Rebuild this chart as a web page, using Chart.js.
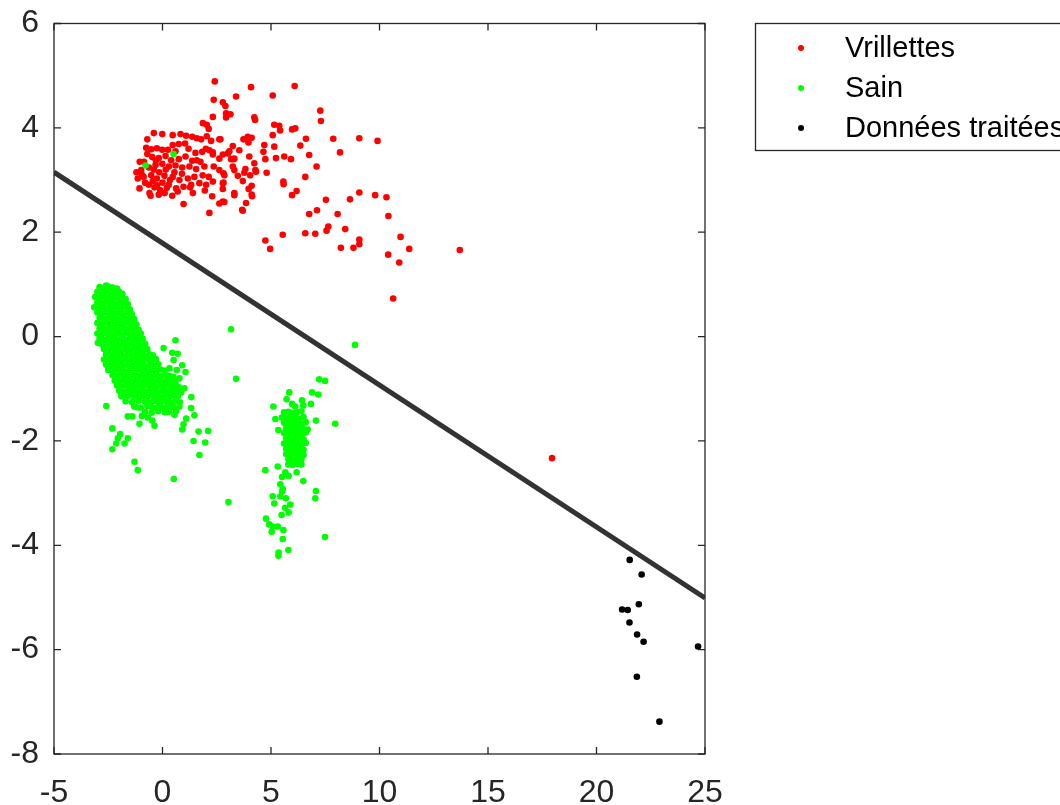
<!DOCTYPE html>
<html>
<head>
<meta charset="utf-8">
<script src="https://cdn.jsdelivr.net/npm/chart.js@4.4.1/dist/chart.umd.min.js"></script>
<style>
  body { margin: 0; background: #fff; }
  #wrap { width: 1060px; height: 805px; }
</style>
</head>
<body>
<div id="wrap"><canvas id="myChart" width="1060" height="805"></canvas></div>
<script>
// tick values
var xTicks = [-5, 0, 5, 10, 15, 20, 25];
var yTicks = [-8, -6, -4, -2, 0, 2, 4, 6];

var labels = ['Vrillettes', 'Sain', 'Données traitées'];

// red points
var vrillettes = [
  [4.08,4.78],[6.09,4.80],[3.39,4.60],[5.08,4.62],[2.78,4.49],[2.90,4.42],[2.93,4.28],[3.13,4.26],[2.93,4.20],[7.27,4.33],
  [7.30,4.13],[4.23,4.20],[4.27,4.15],[5.15,4.06],[5.38,4.04],[5.42,3.95],[5.97,3.97],[6.12,3.99],[5.08,3.86],[3.73,3.78],
  [3.93,3.83],[4.11,3.81],[3.96,3.72],[2.67,3.78],[4.69,3.67],[5.15,3.64],[6.35,3.66],[6.61,3.79],[7.87,3.79],[9.07,3.80],
  [9.91,3.75],[3.24,3.65],[2.78,3.49],[3.01,3.51],[3.16,3.40],[3.27,3.40],[4.00,3.45],[4.65,3.54],[4.74,3.40],[5.23,3.42],
  [5.61,3.45],[5.92,3.40],[6.76,3.48],[8.18,3.53],[4.23,3.32],[4.28,3.19],[4.31,3.16],[3.24,3.26],[3.31,3.19],[7.10,3.26],
  [2.81,3.13],[3.82,3.21],[3.77,3.14],[3.47,3.08],[3.70,2.98],[4.04,3.09],[4.80,3.14],[6.58,3.06],[2.81,2.95],[4.11,2.89],
  [5.57,2.97],[5.58,2.92],[2.78,2.83],[3.31,2.75],[3.97,2.83],[4.11,2.72],[4.13,2.69],[5.97,2.71],[6.18,2.79],[2.78,2.59],
  [3.85,2.56],[3.67,2.43],[7.53,2.62],[8.64,2.63],[9.07,2.76],[9.80,2.71],[10.32,2.67],[6.76,2.35],[7.12,2.42],[8.07,2.35],
  [10.41,2.31],[7.56,2.03],[7.64,2.11],[8.42,2.06],[6.58,1.98],[7.04,1.97],[5.54,1.95],[4.74,1.84],[4.96,1.68],[9.07,1.86],
  [9.07,1.77],[8.22,1.70],[8.80,1.70],[10.97,1.91],[11.37,1.68],[10.40,1.57],[10.91,1.42],[13.70,1.66],[10.63,0.73],[17.95,-2.33],
  [2.41,4.89],[2.36,4.54],[2.32,4.21],[1.86,4.09],[2.04,4.06],[2.13,3.98],
  [-0.40,3.90],[-0.01,3.88],[0.47,3.86],[0.83,3.88],[1.09,3.85],[1.37,3.83],[1.58,3.80],[1.78,3.78],[2.04,3.84],[2.24,3.75],
  [2.62,3.78],[-0.70,3.78],[-0.52,3.59],[-0.26,3.61],[-0.01,3.58],[0.47,3.67],[0.75,3.69],[1.04,3.70],[1.52,3.52],[1.83,3.54],
  [2.16,3.57],[2.32,3.53],[-0.47,3.44],[-0.17,3.42],[0.14,3.46],[1.06,3.45],[1.37,3.37],[1.58,3.38],[-0.98,3.19],[-0.63,3.24],
  [-0.32,3.29],[-0.01,3.31],[0.29,3.26],[0.60,3.28],[0.91,3.24],[1.24,3.26],[1.55,3.21],[1.93,3.26],[2.36,3.26],[2.62,3.19],
  [-1.14,3.03],[-0.87,3.06],[-0.52,3.09],[-0.26,3.03],[0.09,3.08],[0.47,3.06],[0.78,3.00],[1.17,3.03],[1.47,3.06],[1.85,3.09],
  [2.13,3.06],[-1.06,2.84],[-0.63,2.91],[-0.37,2.86],[-0.11,2.81],[0.29,2.91],[0.63,2.84],[0.97,2.87],[1.32,2.91],[1.70,2.94],
  [2.01,2.91],[-0.60,2.75],[-0.17,2.72],[0.70,2.78],[1.27,2.86],[2.29,2.69],[2.62,2.55],[2.85,2.58],[0.97,2.54],[2.16,2.37],
  [3.31,2.71],[2.32,2.97],[2.78,2.94],[2.85,3.09],[3.54,3.57],[3.31,3.41],[3.08,3.55],[2.62,3.41],[2.32,3.49],[3.70,2.41],
  [-0.85,3.35],[-0.70,3.50],[-0.40,3.20],[-0.15,3.15],[0.15,3.20],[-0.80,2.95],[-0.45,2.98],[0.00,2.95],[0.35,3.00],[-0.95,3.10],
  [-0.30,3.38],[0.40,3.38],[0.75,3.40],[0.60,3.55],[0.25,3.58],[-0.55,2.70],[0.10,2.75],[0.45,2.70],[-0.25,2.90],[0.90,3.12],
  [1.20,3.60],[1.75,3.35],[2.00,3.60],[1.40,2.75],[-0.75,3.62],[-1.20,3.15],[-1.05,3.35],[0.20,2.85],[1.95,2.80],[0.55,3.15]
];

// green points
var sain = [
  [-2.9,0.95],[-2.7,0.93],[-2.5,0.96],[-2.3,0.94],[-2.1,0.92],[-2.6,0.98],
  [-3.0,0.86],[-2.8,0.84],[-2.6,0.87],[-2.4,0.85],[-2.2,0.83],[-2.0,0.86],[-1.85,0.82],
  [-3.1,0.76],[-2.9,0.74],[-2.7,0.77],[-2.5,0.75],[-2.3,0.73],[-2.1,0.76],[-1.9,0.74],[-1.7,0.72],
  [-3.0,0.66],[-2.8,0.64],[-2.6,0.67],[-2.4,0.65],[-2.2,0.63],[-2.0,0.66],[-1.8,0.64],[-1.6,0.62],
  [-3.15,0.56],[-2.9,0.54],[-2.7,0.57],[-2.5,0.55],[-2.3,0.53],[-2.1,0.56],[-1.9,0.54],[-1.7,0.57],[-1.5,0.52],
  [-3.0,0.46],[-2.8,0.44],[-2.6,0.47],[-2.4,0.45],[-2.2,0.43],[-2.0,0.46],[-1.8,0.44],[-1.6,0.47],[-1.42,0.43],
  [-2.9,0.36],[-2.7,0.34],[-2.5,0.37],[-2.3,0.35],[-2.1,0.33],[-1.9,0.36],[-1.7,0.34],[-1.5,0.37],[-1.3,0.33],
  [-3.0,0.26],[-2.8,0.24],[-2.6,0.27],[-2.4,0.25],[-2.2,0.23],[-2.0,0.26],[-1.8,0.24],[-1.6,0.27],[-1.4,0.25],[-1.2,0.23],
  [-2.9,0.16],[-2.7,0.14],[-2.5,0.17],[-2.3,0.15],[-2.1,0.13],[-1.9,0.16],[-1.7,0.14],[-1.5,0.17],[-1.3,0.15],[-1.1,0.13],
  [-3.0,0.06],[-2.8,0.04],[-2.6,0.07],[-2.4,0.05],[-2.2,0.03],[-2.0,0.06],[-1.8,0.04],[-1.6,0.07],[-1.4,0.05],[-1.2,0.03],[-1.0,0.06],
  [-2.9,-0.04],[-2.7,-0.06],[-2.5,-0.03],[-2.3,-0.05],[-2.1,-0.07],[-1.9,-0.04],[-1.7,-0.06],[-1.5,-0.03],[-1.3,-0.05],[-1.1,-0.07],[-0.92,-0.04],
  [-2.8,-0.14],[-2.6,-0.16],[-2.4,-0.13],[-2.2,-0.15],[-2.0,-0.17],[-1.8,-0.14],[-1.6,-0.16],[-1.4,-0.13],[-1.2,-0.15],[-1.0,-0.17],[-0.8,-0.14],
  [-2.7,-0.24],[-2.5,-0.26],[-2.3,-0.23],[-2.1,-0.25],[-1.9,-0.27],[-1.7,-0.24],[-1.5,-0.26],[-1.3,-0.23],[-1.1,-0.25],[-0.9,-0.27],[-0.7,-0.24],
  [-2.6,-0.34],[-2.4,-0.36],[-2.2,-0.33],[-2.0,-0.35],[-1.8,-0.37],[-1.6,-0.34],[-1.4,-0.36],[-1.2,-0.33],[-1.0,-0.35],[-0.8,-0.37],[-0.6,-0.34],[-0.45,-0.36],
  [-2.7,-0.44],[-2.5,-0.46],[-2.3,-0.43],[-2.1,-0.45],[-1.9,-0.47],[-1.7,-0.44],[-1.5,-0.46],[-1.3,-0.43],[-1.1,-0.45],[-0.9,-0.47],[-0.7,-0.44],[-0.5,-0.46],[-0.3,-0.43],
  [-2.6,-0.54],[-2.4,-0.56],[-2.2,-0.53],[-2.0,-0.55],[-1.8,-0.57],[-1.6,-0.54],[-1.4,-0.56],[-1.2,-0.53],[-1.0,-0.55],[-0.8,-0.57],[-0.6,-0.54],[-0.4,-0.56],[-0.2,-0.53],
  [-2.5,-0.64],[-2.3,-0.66],[-2.1,-0.63],[-1.9,-0.65],[-1.7,-0.67],[-1.5,-0.64],[-1.3,-0.66],[-1.1,-0.63],[-0.9,-0.65],[-0.7,-0.67],[-0.5,-0.64],[-0.3,-0.66],[-0.1,-0.63],[0.1,-0.65],
  [-2.3,-0.74],[-2.1,-0.76],[-1.9,-0.73],[-1.7,-0.75],[-1.5,-0.77],[-1.3,-0.74],[-1.1,-0.76],[-0.9,-0.73],[-0.7,-0.75],[-0.5,-0.77],[-0.3,-0.74],[-0.1,-0.76],[0.1,-0.73],[0.3,-0.75],[0.5,-0.77],
  [-2.2,-0.84],[-2.0,-0.86],[-1.8,-0.83],[-1.6,-0.85],[-1.4,-0.87],[-1.2,-0.84],[-1.0,-0.86],[-0.8,-0.83],[-0.6,-0.85],[-0.4,-0.87],[-0.2,-0.84],[0.0,-0.86],[0.2,-0.83],[0.4,-0.85],[0.6,-0.87],
  [-2.1,-0.94],[-1.9,-0.96],[-1.7,-0.93],[-1.5,-0.95],[-1.3,-0.97],[-1.1,-0.94],[-0.9,-0.96],[-0.7,-0.93],[-0.5,-0.95],[-0.3,-0.97],[-0.1,-0.94],[0.1,-0.96],[0.3,-0.93],[0.5,-0.95],[0.75,-0.97],
  [-2.0,-1.04],[-1.8,-1.06],[-1.6,-1.03],[-1.4,-1.05],[-1.2,-1.07],[-1.0,-1.04],[-0.8,-1.06],[-0.6,-1.03],[-0.4,-1.05],[-0.2,-1.07],[0.0,-1.04],[0.2,-1.06],[0.4,-1.03],[0.6,-1.05],[0.85,-1.07],
  [-1.9,-1.14],[-1.7,-1.16],[-1.5,-1.13],[-1.3,-1.15],[-1.1,-1.17],[-0.9,-1.14],[-0.7,-1.16],[-0.5,-1.13],[-0.3,-1.15],[-0.1,-1.17],[0.1,-1.14],[0.3,-1.16],[0.5,-1.13],[0.7,-1.15],
  [-1.7,-1.24],[-1.4,-1.26],[-1.1,-1.23],[-0.8,-1.25],[-0.6,-1.27],[-0.4,-1.24],[-0.2,-1.26],[0.0,-1.23],[0.2,-1.25],[0.4,-1.27],[0.6,-1.24],[0.8,-1.26],
  [-1.3,-1.34],[-1.0,-1.36],[-0.7,-1.33],[-0.5,-1.35],[-0.3,-1.37],[-0.1,-1.34],[0.1,-1.36],[0.3,-1.33],[0.5,-1.35],
  [-0.8,-1.44],[-0.5,-1.46],[-0.2,-1.43],[0.1,-1.45],[0.3,-1.44],
  [-0.78,3.28],[0.51,3.50],
  [0.05,-0.22],[0.45,-0.31],[0.70,-0.33],[0.51,-0.45],[0.32,-0.61],[0.66,-0.64],[0.91,-0.55],[1.06,-0.68],[0.78,-0.80],[1.01,-0.99],
  [0.63,-0.96],[0.60,-0.07],[3.16,0.14],[3.39,-0.81],[-2.98,-0.12],
  [-2.59,-1.33],[-1.60,-1.53],[-1.39,-1.53],[-1.14,-1.36],[-0.95,-1.52],[-0.68,-1.55],[-1.06,-1.67],[-0.47,-1.61],[-0.37,-1.71],[-2.31,-1.76],
  [-1.95,-1.87],[-2.06,-1.95],[-2.13,-2.05],[-1.60,-1.95],[-1.75,-2.05],[-2.31,-2.16],[-1.29,-2.40],[-1.14,-2.56],[0.52,-2.73],[0.55,-1.50],
  [0.63,-1.42],[0.78,-1.34],[1.09,-1.57],[0.97,-1.68],[0.91,-1.78],[1.32,-1.37],[1.47,-1.51],[1.33,-1.16],[1.66,-1.82],[2.10,-1.81],
  [1.43,-2.00],[1.97,-2.03],[1.70,-2.27],
  [8.87,-0.16],[7.22,-0.82],[7.49,-0.85],[5.84,-1.07],[6.89,-1.07],[7.18,-1.11],[5.72,-1.20],[6.43,-1.22],[5.97,-1.29],[6.12,-1.34],
  [6.49,-1.32],[6.84,-1.29],[5.11,-1.34],[5.20,-1.58],[7.07,-1.61],[7.96,-1.67],[5.34,-1.79],[6.69,-1.78],
  [5.6,-1.45],[5.8,-1.44],[6.0,-1.46],[6.2,-1.45],[6.4,-1.43],
  [5.5,-1.55],[5.7,-1.56],[5.9,-1.54],[6.1,-1.55],[6.3,-1.57],[6.5,-1.54],
  [5.6,-1.65],[5.8,-1.66],[6.0,-1.64],[6.2,-1.65],[6.4,-1.67],[6.6,-1.64],
  [5.7,-1.75],[5.9,-1.76],[6.1,-1.74],[6.3,-1.75],[6.5,-1.77],
  [5.6,-1.85],[5.8,-1.86],[6.0,-1.84],[6.2,-1.85],[6.4,-1.87],[6.6,-1.84],
  [5.7,-1.95],[5.9,-1.96],[6.1,-1.94],[6.3,-1.95],[6.5,-1.97],
  [5.6,-2.05],[5.8,-2.06],[6.0,-2.04],[6.2,-2.05],[6.4,-2.07],[6.6,-2.04],
  [5.7,-2.15],[5.9,-2.16],[6.1,-2.14],[6.3,-2.15],[6.5,-2.17],
  [5.7,-2.25],[5.9,-2.26],[6.1,-2.24],[6.3,-2.25],[6.5,-2.27],
  [5.8,-2.35],[6.0,-2.36],[6.2,-2.34],[6.4,-2.35],
  [5.8,-2.45],[6.0,-2.46],[6.2,-2.44],[6.4,-2.45],
  [4.74,-2.56],[5.31,-2.49],[5.66,-2.60],[5.81,-2.67],[5.51,-2.69],[6.18,-2.60],[6.49,-2.77],[5.43,-2.83],[5.54,-2.92],[5.51,-2.97],
  [5.08,-3.06],[5.43,-3.06],[5.69,-3.10],[5.15,-3.20],[5.89,-3.22],[5.65,-3.28],[5.81,-3.37],[5.49,-3.42],[7.07,-2.96],[7.04,-3.10],
  [3.04,-3.17],[4.77,-3.49],[4.92,-3.60],[5.08,-3.64],[5.03,-3.74],[5.31,-3.64],[5.57,-3.71],[5.54,-3.88],[5.35,-4.14],[5.34,-4.20],
  [5.80,-4.09],[7.49,-3.84]
];

// black points
var traitees = [
  [21.53,-4.28],[22.08,-4.56],[21.95,-5.13],[21.18,-5.23],[21.44,-5.24],[21.52,-5.48],
  [21.87,-5.71],[22.17,-5.85],[24.68,-5.94],[21.86,-6.52],[22.90,-7.38]
];

// separating line
var frontiere = [[-5, 3.15], [25, -5.01]];

var colors = ['#ff0000', '#00ff00', '#000000'];

function toXY(arr) {
  return arr.map(function (p) { return { x: p[0], y: p[1] }; });
}

var fontFam = '"Liberation Sans", Arial, Helvetica, sans-serif';

var framePlugin = {
  id: 'frame',
  afterDraw: function (chart) {
    var ctx = chart.ctx;
    var a = chart.chartArea;
    var xs = chart.scales.x, ys = chart.scales.y;
    ctx.save();
    ctx.strokeStyle = '#262626';
    ctx.lineWidth = 1.3;
    ctx.strokeRect(a.left, a.top, a.right - a.left, a.bottom - a.top);
    ctx.beginPath();
    for (var i = 0; i < xTicks.length; i++) {
      var px = xs.getPixelForValue(xTicks[i]);
      ctx.moveTo(px, a.bottom); ctx.lineTo(px, a.bottom - 7);
      ctx.moveTo(px, a.top); ctx.lineTo(px, a.top + 7);
    }
    for (var j = 0; j < yTicks.length; j++) {
      var py = ys.getPixelForValue(yTicks[j]);
      ctx.moveTo(a.left, py); ctx.lineTo(a.left + 7, py);
      ctx.moveTo(a.right, py); ctx.lineTo(a.right - 7, py);
    }
    ctx.stroke();

    // legend box
    ctx.fillStyle = '#ffffff';
    ctx.fillRect(755, 23, 320, 127);
    ctx.strokeRect(755.5, 23.5, 320, 127);
    ctx.font = '29px ' + fontFam;
    ctx.textBaseline = 'middle';
    ctx.textAlign = 'left';
    for (var k = 0; k < labels.length; k++) {
      var ly = 48 + k * 40;
      ctx.fillStyle = colors[k];
      ctx.beginPath();
      ctx.arc(801, ly, 3, 0, Math.PI * 2);
      ctx.fill();
      ctx.fillStyle = '#000000';
      ctx.fillText(labels[k], 845, ly + 1);
    }
    ctx.restore();
  }
};

var ctx = document.getElementById('myChart').getContext('2d');
var myChart = new Chart(ctx, {
  type: 'scatter',
  data: {
    datasets: [
      { label: labels[0], data: toXY(vrillettes), backgroundColor: colors[0], borderWidth: 0, pointRadius: 3.3, order: 4 },
      { label: labels[1], data: toXY(sain), backgroundColor: colors[1], borderWidth: 0, pointRadius: 3.3, order: 3 },
      { label: labels[2], data: toXY(traitees), backgroundColor: colors[2], borderWidth: 0, pointRadius: 3.3, order: 2 },
      { type: 'line', label: 'frontiere', data: toXY(frontiere), borderColor: '#333333', borderWidth: 5,
        pointRadius: 0, fill: false, showLine: true, order: 1 }
    ]
  },
  options: {
    responsive: false,
    animation: false,
    devicePixelRatio: 1,
    layout: { padding: { left: 0, right: 355, top: 23.5, bottom: 0 } },
    plugins: { legend: { display: false }, tooltip: { enabled: false } },
    scales: {
      x: {
        type: 'linear', min: -5, max: 25,
        grid: { display: false }, border: { display: false },
        afterBuildTicks: function (s) { s.ticks = xTicks.map(function (v) { return { value: v }; }); },
        afterFit: function (s) { s.height = 51; s.paddingLeft = 0; s.paddingRight = 0; },
        ticks: { color: '#262626', padding: 12, maxRotation: 0, font: { family: fontFam, size: 32 } }
      },
      y: {
        type: 'linear', min: -8, max: 6,
        grid: { display: false }, border: { display: false },
        afterBuildTicks: function (s) { s.ticks = yTicks.map(function (v) { return { value: v }; }); },
        afterFit: function (s) { s.width = 54; s.paddingTop = 0; s.paddingBottom = 0; },
        ticks: { color: '#262626', padding: 7, font: { family: fontFam, size: 32 } }
      }
    }
  },
  plugins: [framePlugin]
});
</script>
</body>
</html>
